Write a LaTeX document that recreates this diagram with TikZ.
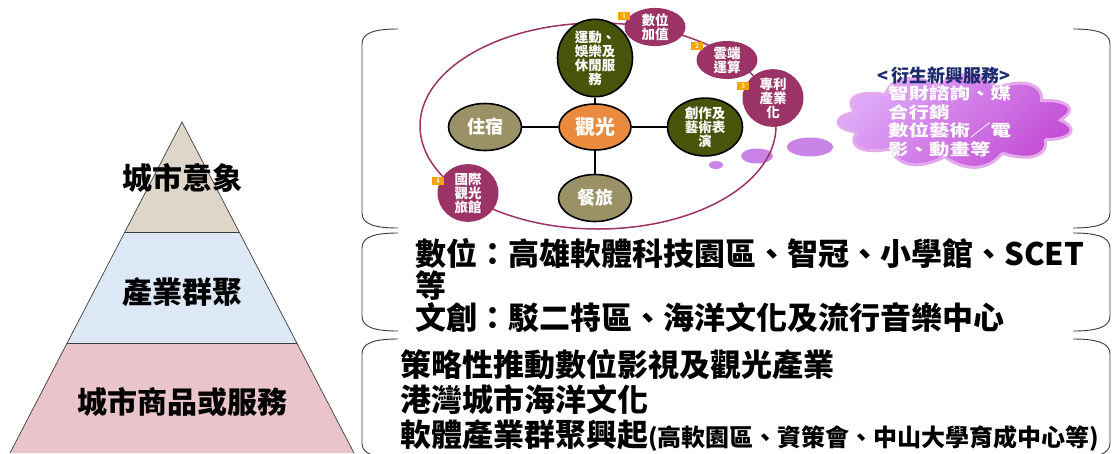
\documentclass[tikz,border=0pt]{standalone}
\usepackage{fontspec}
\newfontfamily\cjk{Noto Sans CJK TC}
\usetikzlibrary{shapes.geometric,shapes.symbols}
\definecolor{plum}{RGB}{155,51,102}
\definecolor{hubor}{RGB}{233,138,62}
\definecolor{khaki}{RGB}{154,146,102}
\definecolor{olive}{RGB}{70,85,10}
\definecolor{badge}{RGB}{247,164,0}
\definecolor{tanA}{RGB}{222,214,201}
\definecolor{blueA}{RGB}{220,232,246}
\definecolor{pinkA}{RGB}{233,197,203}
\definecolor{cloudA}{RGB}{222,170,248}
\definecolor{cloudB}{RGB}{196,80,214}
\definecolor{cloudrim}{RGB}{228,170,236}
\definecolor{bubble}{RGB}{202,132,232}
\definecolor{navy}{RGB}{28,42,110}
\definecolor{edge}{RGB}{60,60,60}
\begin{document}
\begin{tikzpicture}[x=1pt,y=-1pt,
  txt/.style={inner sep=0pt, font=\cjk\bfseries},
  bigline/.style={inner sep=0pt, anchor=west, font=\cjk\bfseries\fontsize{31}{35}\selectfont},
  pyrlabel/.style={inner sep=0pt, font=\cjk\bfseries\fontsize{30}{34}\selectfont},
  oval/.style={ellipse, draw=black, line width=1.6pt, inner sep=0pt, text=white, align=center},
  hub/.style={oval, fill=hubor, minimum width=72pt, minimum height=46pt, font=\cjk\bfseries\fontsize{20}{22}\selectfont},
  khakinode/.style={oval, fill=khaki, minimum width=73pt, minimum height=47pt, font=\cjk\bfseries\fontsize{18}{20}\selectfont},
  greennode/.style={oval, fill=olive, minimum width=75pt, minimum height=45pt, font=\cjk\bfseries\fontsize{13.5}{11}\selectfont},
  plumnode/.style={ellipse, fill=plum, inner sep=0pt, minimum width=61pt, minimum height=33pt, text=white, align=center, font=\cjk\bfseries\fontsize{13.5}{11}\selectfont},
  badgebox/.style={rectangle, fill=badge, minimum width=12pt, minimum height=8pt, inner sep=0pt, text=white, font=\sffamily\bfseries\fontsize{7}{7}\selectfont},
  spoke/.style={line width=2.6pt, black},
  bracket/.style={edge, line width=0.9pt},
  bub/.style={fill=bubble},
  cloudfill/.style={draw=cloudrim, line width=3pt, top color=cloudA, bottom color=cloudB, shading angle=45}
]
\useasboundingbox (0,0) rectangle (1115,453);

% ---------- pyramid ----------
\coordinate (apex) at (182,122);
\coordinate (l1) at (125,232); \coordinate (r1) at (239,232);
\coordinate (l2) at (67,343);  \coordinate (r2) at (297,343);
\coordinate (l3) at (10,453);  \coordinate (r3) at (354,453);
\fill[tanA] (apex) -- (r1) -- (l1) -- cycle;
\fill[blueA] (l1) -- (r1) -- (r2) -- (l2) -- cycle;
\fill[pinkA] (l2) -- (r2) -- (r3) -- (l3) -- cycle;
\draw[edge, line width=0.7pt] (l3) -- (apex) -- (r3);
\draw[edge, line width=0.7pt] (l1) -- (r1);
\draw[edge, line width=0.7pt] (l2) -- (r2);
\node[pyrlabel] (p1) at (182,178) {城市意象};
\node[pyrlabel] (p2) at (182,292) {產業群聚};
\node[pyrlabel] (p3) at (182,402) {城市商品或服務};

% ---------- brackets ----------
\foreach \t/\b in {29/228, 233/331, 339/458}{
  \draw[bracket] (398,\t) .. controls (374,\t) and (362,\t+4) .. (362,\t+15)
     -- (362,\b-15) .. controls (362,\b-4) and (374,\b) .. (398,\b);
  \draw[bracket] (1073,\t) .. controls (1097,\t) and (1110,\t+4) .. (1110,\t+15)
     -- (1110,\b-15) .. controls (1110,\b-4) and (1097,\b) .. (1073,\b);
}

% ---------- thought bubbles ----------
\fill[bub] (716,165) ellipse [x radius=7, y radius=4];
\fill[bub] (757,156) ellipse [x radius=16, y radius=7.5];
\fill[bub] (810,147) ellipse [x radius=23, y radius=9.5];

% ---------- big ellipse ----------
\draw[plum, line width=1.5pt] (598,126) ellipse [x radius=178, y radius=103];

% ---------- cloud ----------
\path[cloudfill] plot[domain=0:360, samples=240, smooth]
   ({956+(104+14*abs(sin(5.5*\x+10)))*cos(\x)}, {121+(36+11*abs(sin(5.5*\x+10)))*sin(\x)}) -- cycle;
\node[txt, text=navy, font=\cjk\bfseries\fontsize{18}{18}\selectfont] (ctitle) at (944,76) {<\,衍生新興服務>};
\node[txt, anchor=west, text=white, font=\cjk\bfseries\fontsize{16}{16}\selectfont] (ctext) at (888,123)
  {\scalebox{1.28}[1]{\begin{tabular}{@{}l@{}}智財諮詢、媒\\合行銷\\數位藝術／電\\影、動畫等\end{tabular}}};

% ---------- tourism network ----------
\node[hub] (hub) at (595,127) {觀光};
\node[khakinode] (stay) at (485,127) {住宿};
\node[khakinode] (food) at (595,198) {餐旅};
\node[greennode] (sport) at (595,58) {運動、\\娛樂及\\休閒服\\務};
\node[greennode] (art) at (705,127) {創作及\\藝術表\\演};
\draw[spoke] (hub) -- (stay);
\draw[spoke] (hub) -- (food);
\draw[spoke] (hub) -- (sport);
\draw[spoke] (hub) -- (art);

\node[plumnode] (n1) at (655,27) {數位\\加值};
\node[plumnode] (n2) at (727,60) {雲端\\運算};
\node[plumnode] (n3) at (773,98) {專利\\產業\\化};
\node[plumnode] (n4) at (468,193) {國際\\觀光\\旅館};
\node[badgebox] (b1) at (624,16) {1};
\node[badgebox] (b2) at (697,46) {2};
\node[badgebox] (b3) at (743,86) {3};
\node[badgebox] (b4) at (438,181) {4};

% ---------- right texts ----------
\node[bigline] (t1) at (415,253) {數位：高雄軟體科技園區、智冠、小學館、SCET};
\node[bigline] (t2) at (415,286) {等};
\node[bigline] (t3) at (415,318) {文創：駁二特區、海洋文化及流行音樂中心};
\node[bigline] (t4) at (400,365) {策略性推動數位影視及觀光產業};
\node[bigline] (t5) at (400,400) {港灣城市海洋文化};
\node[bigline] (t6) at (400,435) {軟體產業群聚興起{\fontsize{24}{35}\selectfont(高軟園區、資策會、中山大學育成中心等)}};
\end{tikzpicture}
\end{document}
